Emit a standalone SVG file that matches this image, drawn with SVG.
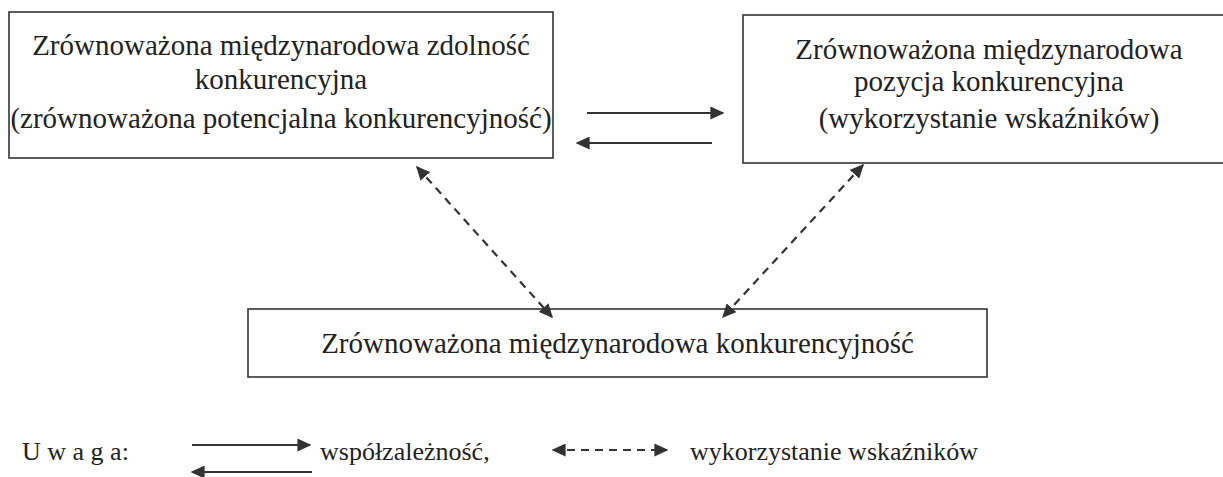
<svg xmlns="http://www.w3.org/2000/svg" width="1223" height="477" viewBox="0 0 1223 477">
<style>
.box{fill:#fff;stroke:#333;stroke-width:1.6}
.t{font-size:29px;fill:#222;text-anchor:middle}
.lg{font-size:26px;fill:#222}
.solid{stroke:#333;stroke-width:2;fill:none}
.dash{stroke:#333;stroke-width:2.2;fill:none;stroke-dasharray:8 6}
</style>
<defs>
<marker id="ahs" viewBox="0 0 10 10" refX="9" refY="5" markerWidth="14" markerHeight="13" markerUnits="userSpaceOnUse" orient="auto-start-reverse" preserveAspectRatio="none">
<path d="M0,0 L10,5 L0,10 z" fill="#333"/>
</marker>
</defs>
<rect width="1223" height="477" fill="#fff"/>
<g font-family="'Liberation Serif', 'DejaVu Serif', serif">
<g id="node-capacity">
<rect class="box" x="9" y="12" width="544" height="146"/>
<text class="t" x="281" y="55">Zrównoważona międzynarodowa zdolność</text>
<text class="t" x="281" y="89">konkurencyjna</text>
<text class="t" x="281" y="128">(zrównoważona potencjalna konkurencyjność)</text>
</g>
<g id="node-position">
<rect class="box" x="743" y="15" width="495" height="148"/>
<text class="t" x="989" y="59">Zrównoważona międzynarodowa</text>
<text class="t" x="989" y="91">pozycja konkurencyjna</text>
<text class="t" x="989" y="128">(wykorzystanie wskaźników)</text>
</g>
<g id="node-competitiveness">
<rect class="box" x="248" y="309" width="739" height="68"/>
<text class="t" x="617.5" y="353">Zrównoważona międzynarodowa konkurencyjność</text>
</g>
<g id="connectors">
<line class="solid" x1="587" y1="113" x2="723" y2="113" marker-end="url(#ahs)"/>
<line class="solid" x1="712" y1="143" x2="577" y2="143" marker-end="url(#ahs)"/>
<line class="dash" x1="417" y1="167" x2="552" y2="317" marker-start="url(#ahs)" marker-end="url(#ahs)"/>
<line class="dash" x1="863" y1="165" x2="723" y2="317" marker-start="url(#ahs)" marker-end="url(#ahs)"/>
</g>
<g id="legend">
<text class="lg" x="22" y="460">U w a g a:</text>
<line class="solid" x1="192" y1="445" x2="310" y2="445" marker-end="url(#ahs)"/>
<line class="solid" x1="312" y1="472" x2="192" y2="472" marker-end="url(#ahs)"/>
<text class="lg" x="320" y="460">współzależność,</text>
<line class="dash" x1="553" y1="450" x2="667" y2="450" stroke-width="1.8" stroke-dasharray="6 5" marker-start="url(#ahs)" marker-end="url(#ahs)"/>
<text class="lg" x="690" y="460">wykorzystanie wskaźników</text>
</g>
</g>
</svg>
